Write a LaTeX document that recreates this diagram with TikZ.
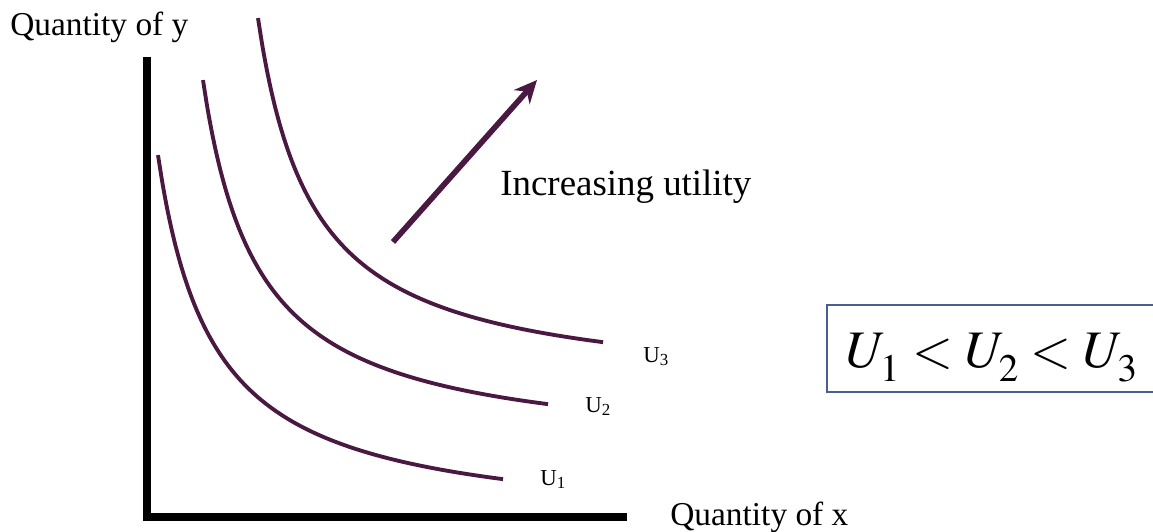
\documentclass[tikz,border=0pt]{standalone}
\usepackage{mathptmx}
\usepackage{fontspec}
\setmainfont{Liberation Serif}
\usetikzlibrary{arrows.meta, positioning}
\definecolor{plum}{HTML}{4A1942}
\definecolor{slate}{HTML}{4A5D94}
\newcommand{\ulow}[1]{U_{\lower4pt\hbox{$\scriptstyle #1$}}}

\begin{document}
\begin{tikzpicture}[x=0.02cm, y=-0.02cm,
  curve/.style={plum, line width=2.2pt},
  axislabel/.style={font=\fontsize{19}{22}\selectfont, inner sep=0pt, anchor=base west},
  ulabel/.style={font=\fontsize{13}{15}\selectfont, inner sep=0pt, anchor=base west}]
  \useasboundingbox (0,0) rectangle (1153,531);

  % axes
  \draw[line width=4pt] (147,57) |- (627,517);
  \node[axislabel] (ylabel) at (10,35) {Quantity of y};
  \node[axislabel] (xlabel) at (670,525) {Quantity of x};

  % indifference curves, same hyperbola shifted
  \foreach \dx/\dy in {0/0, -55/62, -100/137}
    \draw[curve, shift={(\dx,\dy)}] plot[domain=258:603, samples=80, smooth]
      (\x, {394 - 207.5/((\x-202.8)/100)});

  \node[ulabel] (u3lab) at (643,362) {U\textsubscript{3}};
  \node[ulabel] (u2lab) at (585,412) {U\textsubscript{2}};
  \node[ulabel] (u1lab) at (540,485) {U\textsubscript{1}};

  % direction of higher utility
  \coordinate (tail) at (393,242);
  \coordinate (tip) at (537,80);
  \draw[plum, line width=3.2pt, -{Stealth[length=13pt, width=12pt]}] (tail) -- (tip);
  \node[font=\fontsize{21}{25}\selectfont, inner sep=0pt, anchor=base west] (uplabel) at (500,195) {Increasing utility};

  % ordering box
  \draw[slate, line width=1.6pt] (827,305) rectangle (1165,392);
  \node[font=\fontsize{30}{34}\selectfont, inner sep=0pt, anchor=base] (ineq) at (992,367) {$\ulow{1} < \ulow{2} < \ulow{3}$};
\end{tikzpicture}
\end{document}
